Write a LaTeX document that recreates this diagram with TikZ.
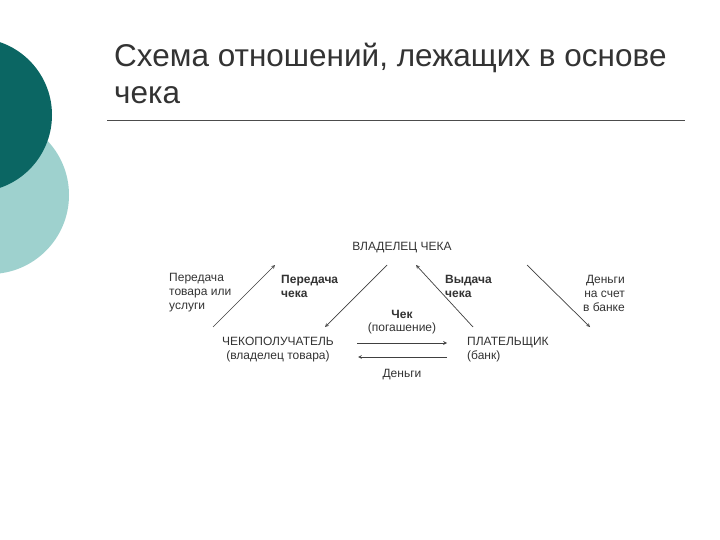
\documentclass[tikz,border=0pt]{standalone}
\usepackage{fontspec}
\setmainfont{Liberation Sans}
\definecolor{darkteal}{HTML}{0B6663}
\definecolor{lightteal}{HTML}{9ED1CE}
\begin{document}
\begin{tikzpicture}[x=1pt,y=-1pt,
  lbl/.style={font=\fontsize{12}{14}\selectfont, inner sep=0pt, text=black!80},
  blbl/.style={lbl, font=\fontsize{12}{14}\selectfont\bfseries},
  arr/.style={-stealth, line width=0.7pt, black!75}]
\useasboundingbox (0,0) rectangle (720,540);
\fill[white] (0,0) rectangle (720,540);
\begin{scope}
\clip (0,0) rectangle (720,540);
\fill[lightteal] (-10,195) circle (79);
\fill[darkteal] (-25,115) circle (77);
\end{scope}
\node[anchor=west, inner sep=0pt, font=\fontsize{31.5}{37}\selectfont, text=black!80, align=left] (title) at (114,73) {Схема отношений, лежащих в основе\\чека};
\draw[black!70, line width=0.8pt] (107,120) -- (685,120);

\node[lbl] (owner) at (402,248) {ВЛАДЕЛЕЦ ЧЕКА};
\node[lbl, align=center] (rec) at (278,350) {ЧЕКОПОЛУЧАТЕЛЬ\\(владелец товара)};
\node[lbl, align=left, anchor=west] (pay) at (467,350) {ПЛАТЕЛЬЩИК\\(банк)};
\node[lbl, align=left, anchor=west] (l1) at (169,293) {Передача\\товара или\\услуги};
\node[blbl, align=left, anchor=west] (l2) at (281,286) {Передача\\чека};
\node[blbl, align=left, anchor=west] (l3) at (445,286) {Выдача\\чека};
\node[lbl, align=right, anchor=east] (l4) at (625,293) {Деньги\\на счет\\в банке};
\node[blbl] (chk) at (402,314) {Чек};
\node[lbl] (pog) at (402,328) {(погашение)};
\node[lbl] (money) at (402,375) {Деньги};

\coordinate (a1s) at (213,327); \coordinate (a1e) at (275,265);
\coordinate (a2s) at (387,265); \coordinate (a2e) at (325,327);
\coordinate (a3s) at (473,327); \coordinate (a3e) at (416,265);
\coordinate (a4s) at (527,265); \coordinate (a4e) at (590,327);
\coordinate (h1s) at (357,343); \coordinate (h1e) at (447,343);
\coordinate (h2s) at (447,357); \coordinate (h2e) at (358,357);
\draw[arr] (a1s) -- (a1e);
\draw[arr] (a2s) -- (a2e);
\draw[arr] (a3s) -- (a3e);
\draw[arr] (a4s) -- (a4e);
\draw[arr] (h1s) -- (h1e);
\draw[arr] (h2s) -- (h2e);
\end{tikzpicture}
\end{document}
